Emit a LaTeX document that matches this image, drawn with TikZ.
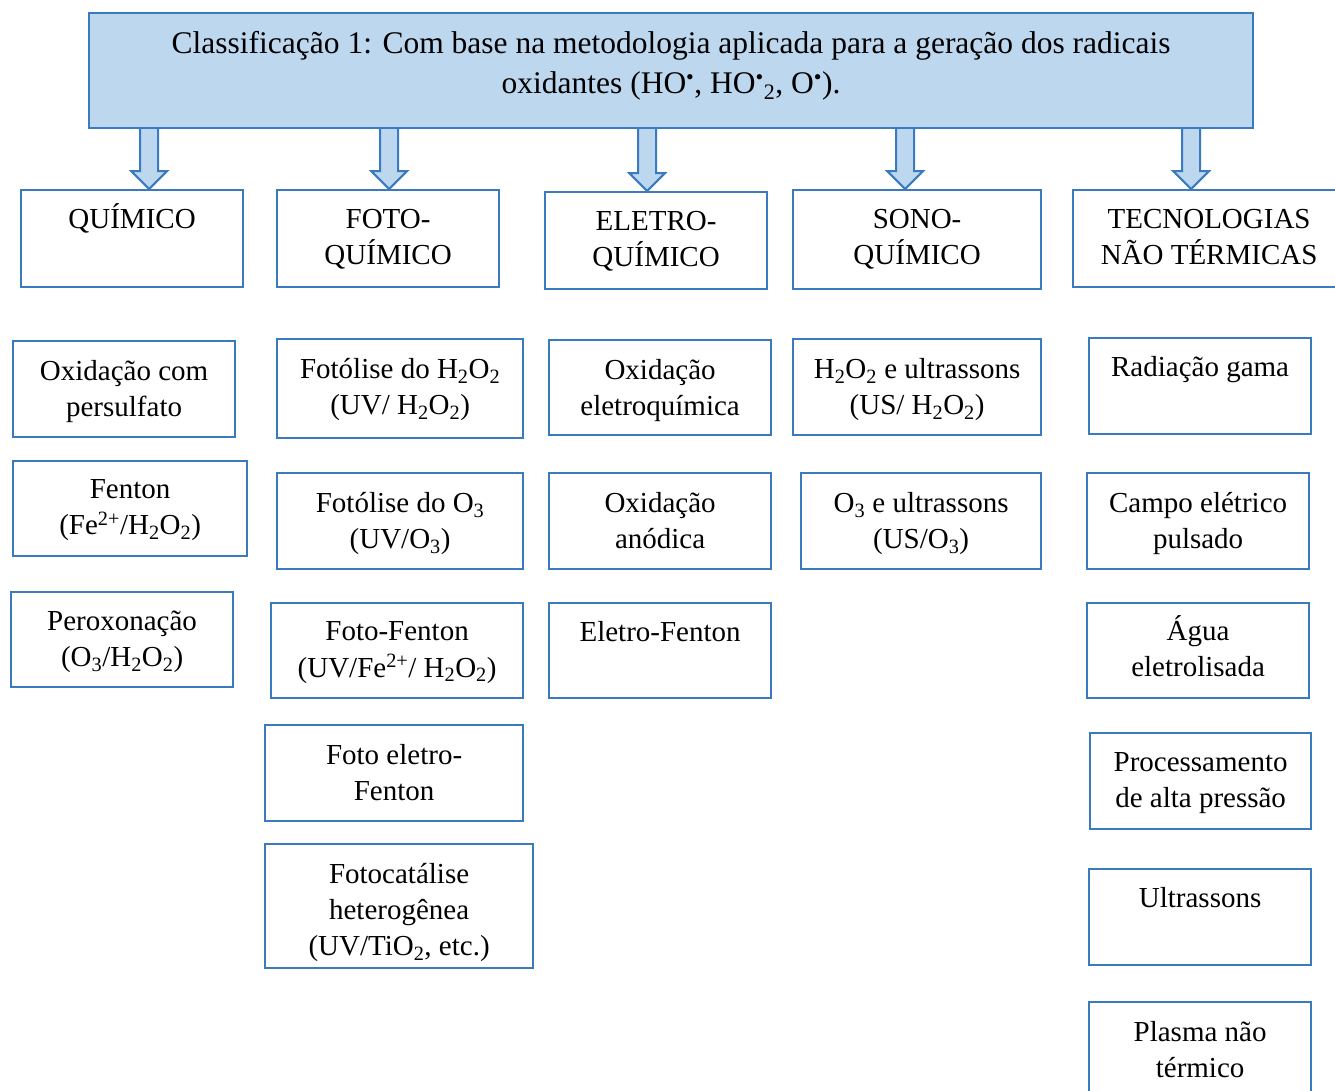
\documentclass[tikz,border=0pt]{standalone}
\usepackage{fontspec}
\setmainfont{Liberation Serif}
\usetikzlibrary{calc}
\definecolor{bord}{HTML}{3A7BBF}
\definecolor{lfill}{HTML}{BDD7EE}
\tikzset{
  boxst/.style={draw=bord, line width=2.2pt, fill=white, inner sep=0pt, anchor=north west},
  txt/.style={anchor=north, align=center, inner sep=0pt, font=\fontsize{29}{36}\selectfont, execute at begin node=\strut},
  toptxt/.style={anchor=north, align=center, inner sep=0pt, font=\fontsize{31.5}{40}\selectfont, execute at begin node=\strut},
  barrow/.style={draw=bord, fill=lfill, line width=2pt, line join=miter},
}
% multi-line box
\newcommand\bx[6]{%
  \node[boxst, minimum width=#4-#2, minimum height=#5-#3] (#1) at (#2,#3) {};
  \node[txt] (#1-t) at ($(#1.north)+(0,19.8)$) {#6};
}
% single-line box (or first line with a tall accent)
\newcommand\bxs[6]{%
  \node[boxst, minimum width=#4-#2, minimum height=#5-#3] (#1) at (#2,#3) {};
  \node[txt] (#1-t) at ($(#1.north)+(0,13.8)$) {#6};
}
\newcommand\barr[1]{%
  \draw[barrow] ($(#1 |- top.south)+(-9,0)$) -- ($(#1)+(-9,-18)$) -- ($(#1)+(-18,-18)$) -- (#1)
    -- ($(#1)+(18,-18)$) -- ($(#1)+(9,-18)$) -- ($(#1 |- top.south)+(9,0)$);
}
\begin{document}
\begin{tikzpicture}[x=1pt, y=-1pt]
\useasboundingbox (0,0) rectangle (1335,1090);
% top box
\node[boxst, fill=lfill, minimum width=1164, minimum height=115] (top) at (88,12) {};
\node[toptxt] (top-t) at ($(top.north)+(0,19)$) {Classificação 1: Com base na metodologia aplicada para a geração dos radicais\\oxidantes (HO\textsuperscript{•}, HO\textsuperscript{•}\textsubscript{2}, O\textsuperscript{•}).};
% category boxes
\bxs{c1}{20}{189}{242}{286}{QUÍMICO}
\bx{c2}{276}{189}{498}{286}{FOTO-\\QUÍMICO}
\bx{c3}{544}{191}{766}{288}{ELETRO-\\QUÍMICO}
\bx{c4}{792}{189}{1040}{288}{SONO-\\QUÍMICO}
\bx{c5}{1072}{189}{1344}{286}{TECNOLOGIAS\\NÃO TÉRMICAS}
% arrows
\coordinate (p1) at ([xshift=17]c1.north);
\coordinate (p2) at ([xshift=1]c2.north);
\coordinate (p3) at ([xshift=-9]c3.north);
\coordinate (p4) at ([xshift=-12]c4.north);
\coordinate (p5) at ([xshift=-18]c5.north);
\barr{p1}\barr{p2}\barr{p3}\barr{p4}\barr{p5}
% column 1
\bx{q1}{12}{340}{234}{436}{Oxidação com\\persulfato}
\bx{q2}{12}{460}{246}{555}{Fenton\\(Fe\textsuperscript{2+}/H\textsubscript{2}O\textsubscript{2})}
\bx{q3}{10}{591}{232}{686}{Peroxonação\\(O\textsubscript{3}/H\textsubscript{2}O\textsubscript{2})}
% column 2
\bx{f1}{276}{338}{522}{437}{Fotólise do H\textsubscript{2}O\textsubscript{2}\\(UV/ H\textsubscript{2}O\textsubscript{2})}
\bx{f2}{276}{472}{522}{568}{Fotólise do O\textsubscript{3}\\(UV/O\textsubscript{3})}
\bx{f3}{270}{602}{522}{697}{Foto-Fenton\\(UV/Fe\textsuperscript{2+}/ H\textsubscript{2}O\textsubscript{2})}
\bx{f4}{264}{724}{522}{820}{Foto eletro-\\Fenton}
\bx{f5}{264}{843}{532}{967}{Fotocatálise\\heterogênea\\(UV/TiO\textsubscript{2}, etc.)}
% column 3
\bx{e1}{548}{339}{770}{434}{Oxidação\\eletroquímica}
\bx{e2}{548}{472}{770}{568}{Oxidação\\anódica}
\bxs{e3}{548}{602}{770}{697}{Eletro-Fenton}
% column 4
\bx{s1}{792}{338}{1040}{434}{H\textsubscript{2}O\textsubscript{2} e ultrassons\\(US/ H\textsubscript{2}O\textsubscript{2})}
\bx{s2}{800}{472}{1040}{568}{O\textsubscript{3} e ultrassons\\(US/O\textsubscript{3})}
% column 5
\bxs{t1}{1088}{337}{1310}{433}{Radiação gama}
\bx{t2}{1086}{472}{1308}{568}{Campo elétrico\\pulsado}
\bxs{t3}{1086}{602}{1308}{697}{Água\\eletrolisada}
\bx{t4}{1089}{732}{1310}{828}{Processamento\\de alta pressão}
\bxs{t5}{1088}{868}{1310}{964}{Ultrassons}
\bx{t6}{1088}{1001}{1310}{1097}{Plasma não\\térmico}
\end{tikzpicture}
\end{document}
